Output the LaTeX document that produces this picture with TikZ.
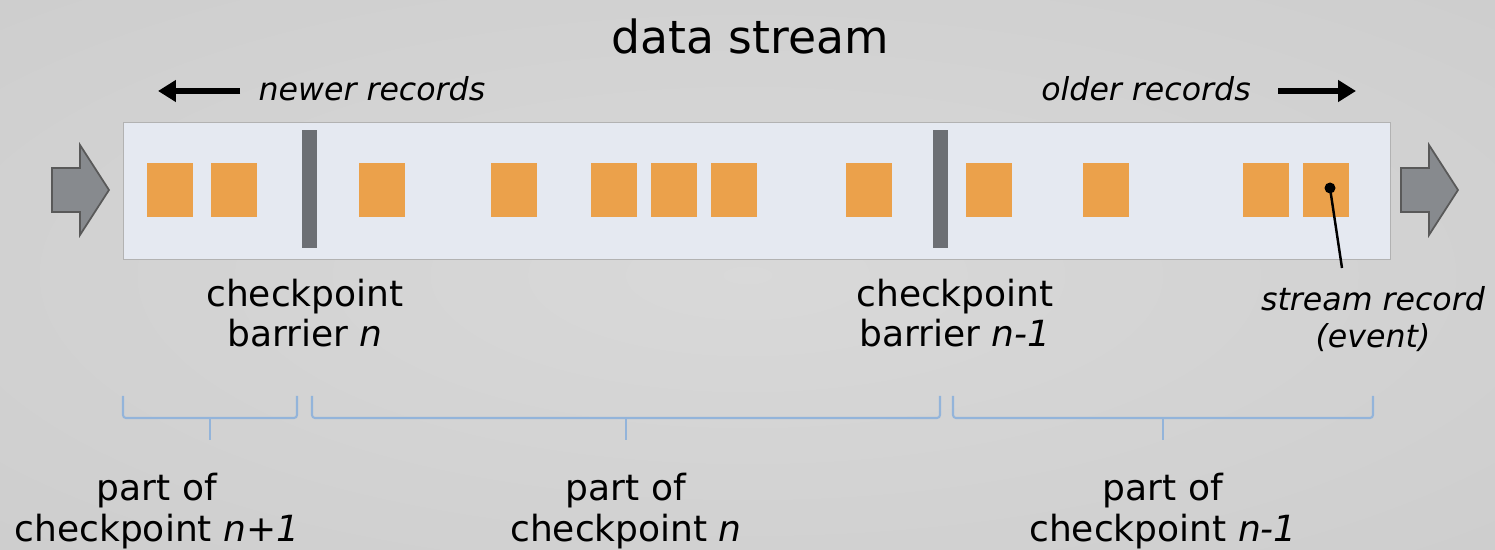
\documentclass[tikz,border=0pt]{standalone}
\usepackage{fontspec}
\setmainfont{DejaVu Sans}
\usetikzlibrary{positioning}
\usetikzlibrary{arrows.meta}

\definecolor{recordorange}{HTML}{EBA14B}
\definecolor{bandblue}{HTML}{E5E9F1}
\definecolor{barriergray}{HTML}{6C6F74}
\definecolor{flowgray}{HTML}{878A8E}
\definecolor{braceblue}{HTML}{93B4DA}
\pgfdeclareradialshading{backshade}{\pgfpoint{0bp}{0bp}}{color(0bp)=(black!15); color(50bp)=(black!21); color(72bp)=(black!26)}

\tikzset{
  record/.style={fill=recordorange,minimum width=0.92cm,minimum height=1.08cm,inner sep=0pt,anchor=north west},
  barrier/.style={fill=barriergray,minimum width=0.3cm,minimum height=2.36cm,inner sep=0pt},
  flow/.style={draw=black!65,fill=flowgray,line width=1pt,line join=miter},
  bracket/.style={draw=braceblue,line width=1.2pt,rounded corners=0.06cm},
  barriertext/.style={font=\fontsize{20.5}{22.7}\selectfont,align=center,inner sep=0pt},
  parttext/.style={font=\fontsize{20.5}{23.8}\selectfont,align=center,inner sep=0pt},
  notetext/.style={font=\fontsize{18}{21}\selectfont\itshape,inner sep=0pt},
  bigarrow/.style={-{Triangle[length=0.36cm,width=0.42cm]},line width=3pt}
}

\begin{document}
\begin{tikzpicture}[x=0.02cm,y=-0.02cm,every path/.style={>=latex}]
	% background
	\useasboundingbox (0,0) rectangle (1495,550);
	\shade[shading=backshade] (0,0) rectangle (1495,550);

	\node[font=\fontsize{26}{30}\selectfont,anchor=base] (title) at (750,54) {data stream};

	% direction of the records
	\node[notetext,anchor=base] (newer) at (372,101) {newer records};
	\node[notetext,anchor=base] (older) at (1146,101) {older records};
	\coordinate (newtail) at (240,91);
	\coordinate (newtip) at (158,91);
	\coordinate (oldtail) at (1278,91);
	\coordinate (oldtip) at (1356,91);
	\draw[bigarrow] (newtail) -- (newtip);
	\draw[bigarrow] (oldtail) -- (oldtip);

	% draw the stream band
	\node[draw=black!30,fill=bandblue,minimum width=25.34cm,minimum height=2.74cm,inner sep=0pt] (stream) at (756.5,190.5) {};

	% draw in and out arrows
	\foreach \xs in {52,1401}
	{
		\draw[flow,shift={(\xs,0)}] (0,168) -- (28,168) -- (28,145) -- (57,190) -- (28,235) -- (28,212) -- (0,212) -- cycle;
	}

	% draw records
	\foreach \x [count=\i] in {147,211,359,491,591,651,711,846,966,1083,1243,1303}
	{
		\node[record] (rec\i) at (\x,163) {};
	}

	% draw barriers
	\node[barrier] (bar1) at (309.5,189) {};
	\node[barrier] (bar2) at (940,189) {};

	% one record pointed out
	\node[circle,fill=black,inner sep=0pt,minimum size=0.22cm] (dot) at (1330,188) {};
	\node[notetext,align=center] (event) at (1373,319) {stream record\\(event)};
	\coordinate (pointerend) at (1342,268);
	\draw[line width=1.4pt] (dot.center) -- (pointerend);

	% barrier labels
	\node[barriertext] (barlab1) at (305,313) {checkpoint\\barrier \textit{n}};
	\node[barriertext] (barlab2) at (955,313) {checkpoint\\barrier \textit{n-1}};

	% draw brackets
	\foreach \a/\b/\m in {123/297/210,312/940/626,953/1373/1163}
	{
		\draw[bracket] (\a,396) |- (\m,418) -| (\b,396);
		\draw[bracket] (\m,418) -- (\m,440);
	}

	% checkpoint parts
	\node[parttext] (part1) at (157,511) {part of\\checkpoint \textit{n+1}};
	\node[parttext] (part2) at (626,511) {part of\\checkpoint \textit{n}};
	\node[parttext] (part3) at (1163,511) {part of\\checkpoint \textit{n-1}};
\end{tikzpicture}
\end{document}
